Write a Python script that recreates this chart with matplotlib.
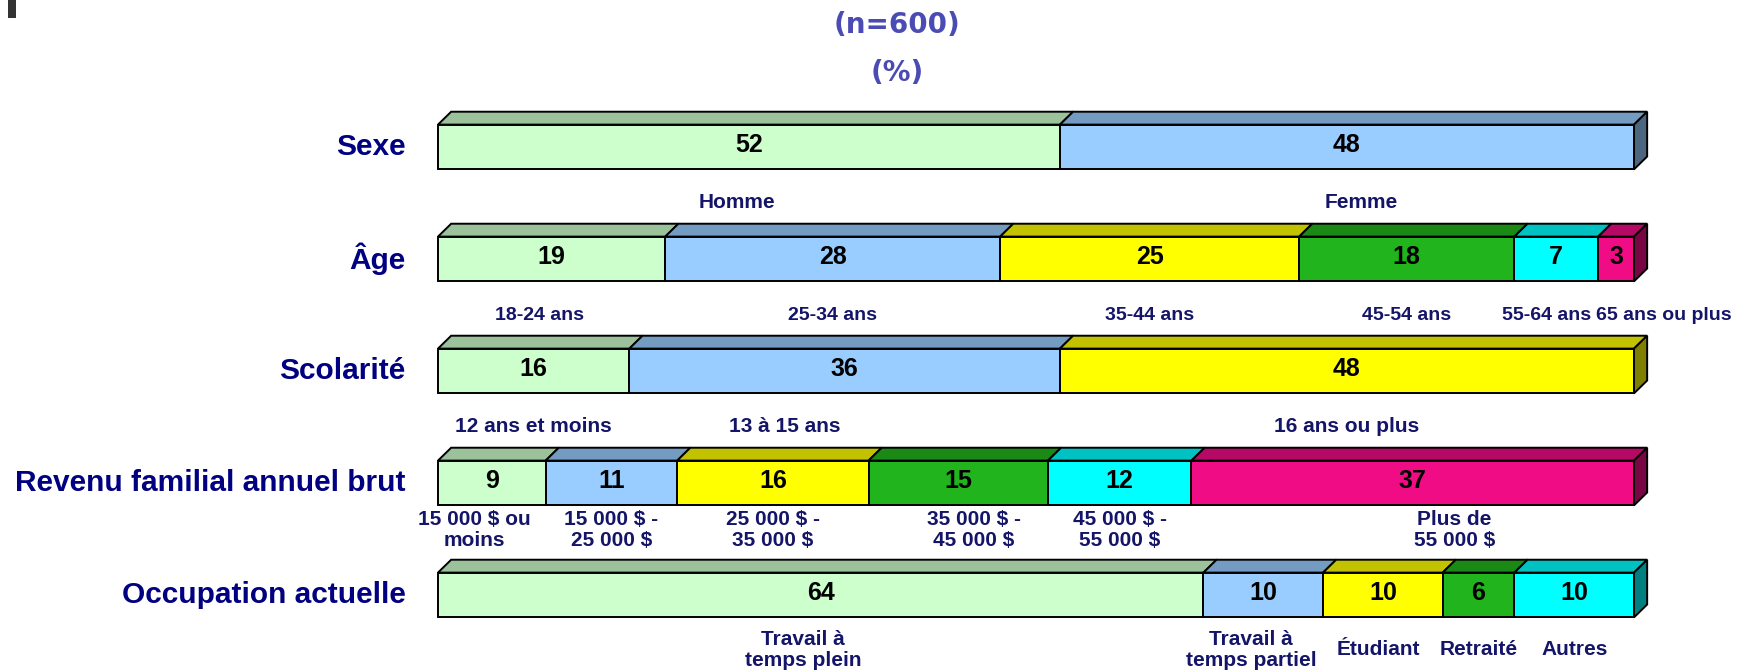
import matplotlib.pyplot as plt
from matplotlib.patches import Polygon, Rectangle
from matplotlib import colors as mcolors

# Données (%)
rows = ['Sexe', 'Âge', 'Scolarité', 'Revenu familial annuel brut', 'Occupation actuelle']

sexe_vals = [52, 48]
sexe_labels = ['Homme', 'Femme']

age_vals = [19, 28, 25, 18, 7, 3]
age_labels = ['18-24 ans', '25-34 ans', '35-44 ans', '45-54 ans', '55-64 ans', '65 ans ou plus']

scol_vals = [16, 36, 48]
scol_labels = ['12 ans et moins', '13 à 15 ans', '16 ans ou plus']

revenu_vals = [9, 11, 16, 15, 12, 37]
revenu_labels = ['15 000 $ ou\nmoins', '15 000 $ -\n25 000 $', '25 000 $ -\n35 000 $',
                 '35 000 $ -\n45 000 $', '45 000 $ -\n55 000 $', 'Plus de\n55 000 $']

occ_vals = [64, 10, 10, 6, 10]
occ_labels = ['Travail à\ntemps plein', 'Travail à\ntemps partiel', 'Étudiant', 'Retraité', 'Autres']

all_vals = [sexe_vals, age_vals, scol_vals, revenu_vals, occ_vals]
all_labels = [sexe_labels, age_labels, scol_labels, revenu_labels, occ_labels]

seg_colors = ['#CCFFCC', '#99CCFF', '#FFFF00', '#22B41C', '#00FFFF', '#F00C85']

# petits décalages des étiquettes (en %) pour éviter les chevauchements
label_nudge = {(0, 0): -1, (0, 1): 1.2, (1, 0): -1, (1, 4): -0.8, (1, 5): 4, (2, 1): -5,
               (3, 0): -1.5, (3, 3): 1.3, (3, 5): 3.5, (4, 0): -1.5, (4, 1): -1, (4, 2): -0.4}
# distance étiquettes / bas de la barre (en rangées)
label_gap = [0.30, 0.30, 0.30, 0.22, 0.29]
label_size = [15, 14, 15, 15, 15]

NAVY = '#000080'
LABEL = '#141468'

fig = plt.figure(figsize=(17.53, 6.72), dpi=100)
ax = fig.add_axes([438 / 1753, 0, 1196 / 1753, 1])
ax.set_xlim(0, 100)
ax.set_ylim(4.6875, -1.3125)
ax.axis('off')

h = 0.40        # hauteur de la face avant
dx = 1.1        # profondeur 3D en x (%)
dy = 0.115      # profondeur 3D en y (rangées)


def shade(c, f):
    r, g, b = mcolors.to_rgb(c)
    return (r * f, g * f, b * f)


for i, (vals, labs) in enumerate(zip(all_vals, all_labels)):
    top = i - h / 2
    bot = i + h / 2
    x0 = 0
    for j, v in enumerate(vals):
        col = seg_colors[j]
        x1 = x0 + v
        ax.add_patch(Polygon([(x0, top), (x0 + dx, top - dy), (x1 + dx, top - dy), (x1, top)],
                             closed=True, facecolor=shade(col, 0.76), edgecolor='black',
                             lw=1.4, clip_on=False))
        ax.add_patch(Rectangle((x0, top), v, h, facecolor=col, edgecolor='black', lw=1.4,
                               clip_on=False))
        if j == len(vals) - 1:
            ax.add_patch(Polygon([(x1, top), (x1 + dx, top - dy), (x1 + dx, bot - dy), (x1, bot)],
                                 closed=True, facecolor=shade(col, 0.5), edgecolor='black',
                                 lw=1.4, clip_on=False))
        ax.text(x0 + v / 2, i - 0.02, str(v), ha='center', va='center', fontsize=18,
                fontweight='bold', family='Liberation Sans', color='black')
        lx = x0 + v / 2 + label_nudge.get((i, j), 0)
        ax.text(lx, bot + label_gap[i], labs[j], ha='center', va='center', fontsize=label_size[i],
                fontweight='bold', family='Liberation Sans', color=LABEL, linespacing=1.1)
        x0 = x1
    ax.text(-2.7, i, rows[i], ha='right', va='center', fontsize=21.5, fontweight='bold',
            family='Liberation Sans', color=NAVY)

fig.text(897 / 1753, 1 - 25 / 672, '(n=600)', ha='center', va='center', fontsize=20,
         fontweight='bold', family='DejaVu Sans', color='#4B4BB4')
fig.text(897 / 1753, 1 - 73 / 672, '(%)', ha='center', va='center', fontsize=20,
         fontweight='bold', family='DejaVu Sans', color='#4B4BB4')

# petit repère gris en haut à gauche
fig.patches.append(Rectangle((8 / 1753, 1 - 18 / 672), 8 / 1753, 18 / 672,
                             transform=fig.transFigure, facecolor='#333333', edgecolor='none'))

fig.savefig('out.png', dpi=100)
